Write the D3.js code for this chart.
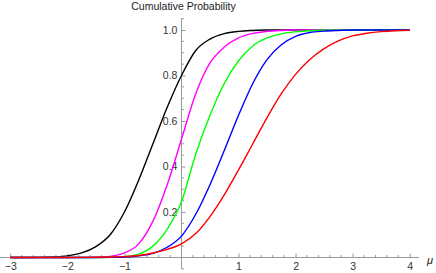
<!DOCTYPE html>
<html>
<head>
<meta charset="utf-8">
<script src="https://cdn.jsdelivr.net/npm/d3@7"></script>
<style>
    body { margin: 0; background: #fff; }
    svg { display: block; font-family: "Liberation Sans", Arial, sans-serif; }
</style>
</head>
<body>
<div id="chart"></div>
<script>
var muValues = [-3, -2.75, -2.5, -2.25, -2, -1.75, -1.5, -1.25, -1, -0.75, -0.5, -0.25, 0,
    0.25, 0.5, 0.75, 1, 1.25, 1.5, 1.75, 2, 2.25, 2.5, 2.75, 3, 3.25, 3.5, 3.75, 4];

var blackCdf = [0, 0.0001, 0.0005, 0.002, 0.007, 0.02, 0.048, 0.1, 0.2, 0.34, 0.5, 0.66, 0.8,
    0.91, 0.96, 0.984, 0.994, 0.998, 1, 1, 1, 1, 1, 1, 1, 1, 1, 1, 1];
var magentaCdf = [0, 0, 0, 0, 0, 0.0002, 0.001, 0.005, 0.02, 0.06, 0.16, 0.32, 0.52,
    0.72, 0.855, 0.925, 0.965, 0.985, 0.994, 0.998, 1, 1, 1, 1, 1, 1, 1, 1, 1];
var greenCdf = [0, 0, 0, 0, 0, 0, 0.0002, 0.001, 0.004, 0.015, 0.05, 0.125, 0.245,
    0.455, 0.625, 0.765, 0.865, 0.93, 0.965, 0.983, 0.992, 0.997, 0.999, 1, 1, 1, 1, 1, 1];
var blueCdf = [0, 0, 0, 0, 0, 0, 0.0002, 0.0006, 0.002, 0.007, 0.018, 0.045, 0.094,
    0.19, 0.32, 0.47, 0.625, 0.765, 0.87, 0.935, 0.972, 0.989, 0.995, 0.998, 1, 1, 1, 1, 1];
var redCdf = [0, 0, 0, 0.0001, 0.0003, 0.0006, 0.001, 0.002, 0.004, 0.009, 0.02, 0.036, 0.06,
    0.105, 0.18, 0.275, 0.385, 0.5, 0.615, 0.72, 0.805, 0.87, 0.918, 0.952, 0.974, 0.986, 0.993, 0.997, 0.999];

var seriesList = [
    { name: "black", color: "#000000", values: blackCdf },
    { name: "magenta", color: "#ff00ff", values: magentaCdf },
    { name: "green", color: "#00ff00", values: greenCdf },
    { name: "blue", color: "#0000ff", values: blueCdf },
    { name: "red", color: "#ff0000", values: redCdf }
];

var xMajorTicks = [-3, -2, -1, 1, 2, 3, 4];
var yMajorTicks = [0.2, 0.4, 0.6, 0.8, 1.0];

var width = 436,
    height = 273;

var svg = d3.select("#chart")
    .append("svg")
    .attr("width", width)
    .attr("height", height);

var x = d3.scaleLinear().domain([-3, 4]).range([10.3, 409.7]);
var y = d3.scaleLinear().domain([0, 1]).range([257.5, 30]);

var axisColor = "#999999",
    labelColor = "#333333";

// minor ticks
var xMinor = d3.range(-3.0, 4.01, 0.2).filter(function (v) {
    return Math.abs(v - Math.round(v)) > 0.01;
});
var yMinor = d3.range(-0.05, 1.06, 0.05).filter(function (v) {
    return Math.abs(v * 5 - Math.round(v * 5)) > 0.01;
});

// x axis (ticks point up, into the plot)
var xAxis = d3.axisBottom(x)
    .tickValues(xMajorTicks)
    .tickSize(-4)
    .tickFormat(function (d) { return d3.format("d")(d).replace("-", "\u2212"); });

var xAxisG = svg.append("g")
    .attr("class", "x axis")
    .attr("transform", "translate(0," + y(0) + ")")
    .call(xAxis);

xAxisG.select(".domain").remove();
xAxisG.selectAll("line").attr("stroke", axisColor);
xAxisG.selectAll("text")
    .attr("fill", labelColor)
    .attr("font-size", "10.5px")
    .attr("y", 5)
    .attr("dy", "0.71em");

xAxisG.selectAll(".minor")
    .data(xMinor)
    .enter().append("line")
    .attr("class", "minor")
    .attr("x1", function (d) { return x(d); })
    .attr("x2", function (d) { return x(d); })
    .attr("y1", 0)
    .attr("y2", -2.5)
    .attr("stroke", axisColor);

xAxisG.append("line")
    .attr("x1", x(-3.18))
    .attr("x2", x(4.16))
    .attr("stroke", axisColor);

// y axis (ticks point right)
var yAxis = d3.axisLeft(y)
    .tickValues(yMajorTicks)
    .tickSize(-4)
    .tickFormat(d3.format(".1f"));

var yAxisG = svg.append("g")
    .attr("class", "y axis")
    .attr("transform", "translate(" + x(0) + ",0)")
    .call(yAxis);

yAxisG.select(".domain").remove();
yAxisG.selectAll("line").attr("stroke", axisColor);
yAxisG.selectAll("text")
    .attr("fill", labelColor)
    .attr("font-size", "10.5px")
    .attr("x", -4);

yAxisG.selectAll(".minor")
    .data(yMinor)
    .enter().append("line")
    .attr("class", "minor")
    .attr("y1", function (d) { return y(d); })
    .attr("y2", function (d) { return y(d); })
    .attr("x1", 0)
    .attr("x2", 2.5)
    .attr("stroke", axisColor);

yAxisG.append("line")
    .attr("y1", y(-0.05))
    .attr("y2", y(1.053))
    .attr("stroke", axisColor);

// axis labels
svg.append("text")
    .attr("x", x(0) + 2)
    .attr("y", 10)
    .attr("text-anchor", "middle")
    .attr("font-size", "10.5px")
    .attr("fill", "#222")
    .text("Cumulative Probability");

svg.append("text")
    .attr("x", 427)
    .attr("y", 264)
    .attr("font-size", "11px")
    .attr("font-style", "italic")
    .attr("fill", "#222")
    .text("\u03bc");

// curves
var line = d3.line()
    .x(function (d, i) { return x(muValues[i]); })
    .y(function (d) { return y(d); })
    .curve(d3.curveMonotoneX);

svg.selectAll(".cdf")
    .data(seriesList)
    .enter().append("path")
    .attr("class", "cdf")
    .attr("fill", "none")
    .attr("stroke", function (s) { return s.color; })
    .attr("stroke-width", 1.4)
    .attr("d", function (s) { return line(s.values); });
</script>
</body>
</html>
